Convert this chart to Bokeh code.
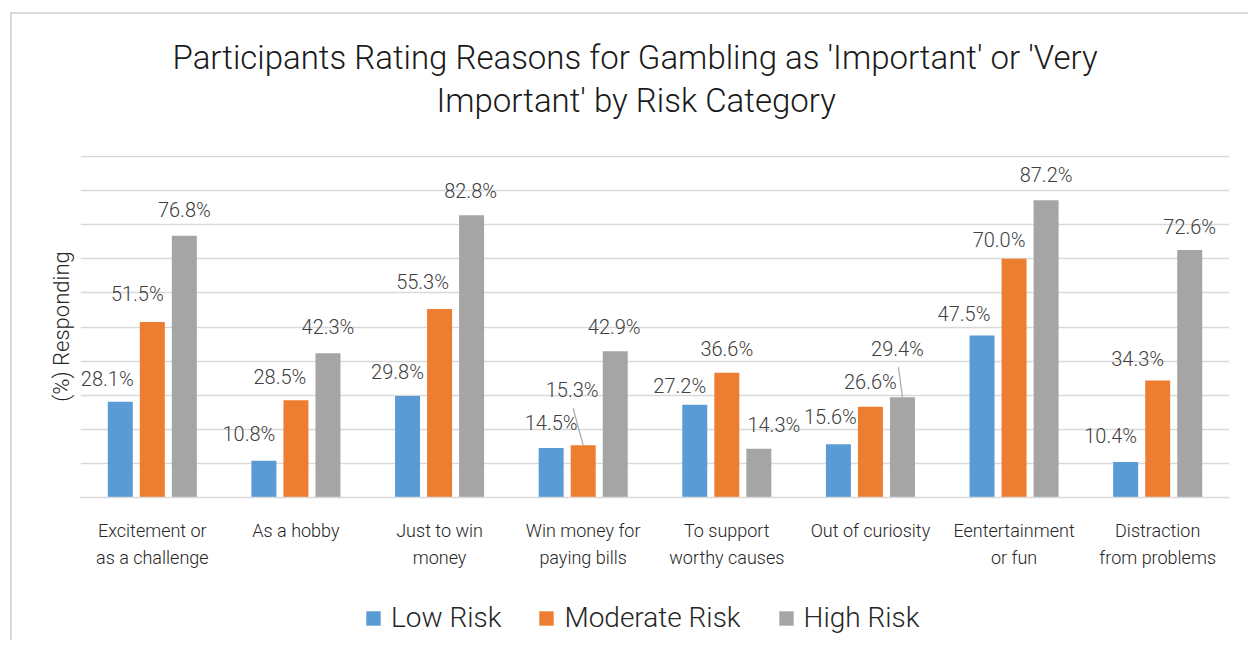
from bokeh.plotting import figure
from bokeh.models import (ColumnDataSource, FactorRange, Range1d, FixedTicker, Legend,
                          LegendItem, Title, InlineStyleSheet)
from bokeh.layouts import column
from bokeh.transform import dodge
from bokeh.core.properties import value
from bokeh.embed import file_html
from bokeh.resources import INLINE

# ---------------- data ----------------
categories = [
    "Excitement or\nas a challenge",
    "As a hobby",
    "Just to win\nmoney",
    "Win money for\npaying bills",
    "To support\nworthy causes",
    "Out of curiosity",
    "Eentertainment\nor fun",
    "Distraction\nfrom problems",
]
series_names = ["Low Risk", "Moderate Risk", "High Risk"]
low_risk = [28.1, 10.8, 29.8, 14.5, 27.2, 15.6, 47.5, 10.4]
moderate_risk = [51.5, 28.5, 55.3, 15.3, 36.6, 26.6, 70.0, 34.3]
high_risk = [76.8, 42.3, 82.8, 42.9, 14.3, 29.4, 87.2, 72.6]
y_ticks = [0, 10, 20, 30, 40, 50, 60, 70, 80, 90, 100]
title_lines = ["Participants Rating Reasons for Gambling as 'Important' or 'Very",
               "Important' by Risk Category"]

# ---------------- styling ----------------
FONT = "Roboto Light"
colors = ["#5b9bd5", "#ed7d31", "#a5a5a5"]
offsets = [-0.223, 0.0, 0.223]
bar_width = 0.174

# data-label placement (pixels: dx right, up above bar top)
label_dx = [
    [-13, -15, -10, 0, -15, -8, -18, -15],
    [-15, -16, -17, -11, 0, 0, -15, -20],
    [0, 0, -1, -1, 15, -5, 0, 0],
]
label_up = [
    [23, 27, 24, 25, 19, 27, 22, 26],
    [28, 23, 27, 55, 24, 25, 19, 22],
    [26, 26, 24, 24, 24, 48, 25, 23],
]
leader = [
    [False] * 8,
    [False, False, False, True, False, False, False, False],
    [False, False, False, False, False, True, False, False],
]

Y_MAX = 100.3
FRAME_W, FRAME_H = 1149, 342
ML, MR, MT, MB = 80, 19, 155, 83
px_x = 1.0 / (FRAME_W / len(categories))   # category units per px
px_y = Y_MAX / FRAME_H                      # percent per px

p = figure(
    x_range=FactorRange(*categories, range_padding=0, factor_padding=0),
    y_range=Range1d(0, Y_MAX),
    width=ML + FRAME_W + MR, height=MT + FRAME_H + MB,
    frame_width=FRAME_W, frame_height=FRAME_H,
    min_border_left=ML, min_border_right=MR, min_border_top=MT, min_border_bottom=MB,
    toolbar_location=None, output_backend="svg",
    background_fill_color="white", border_fill_color="white",
)
p.outline_line_color = None
p.stylesheets = [InlineStyleSheet(css="""
:host::after {
  content: ""; position: absolute; left: 10px; top: 12px; right: 0; bottom: 0;
  border-left: 2px solid #d9d9d9; border-top: 2px solid #d9d9d9;
  pointer-events: none; z-index: 50;
}
""")]

all_series = [low_risk, moderate_risk, high_risk]
sources = []
for s, vals in enumerate(all_series):
    src = ColumnDataSource(dict(
        cat=categories,
        idx=list(range(len(categories))),
        val=vals,
        txt=["%.1f%%" % v for v in vals],
        dx=label_dx[s],
        dy=[-u for u in label_up[s]],
    ))
    sources.append(src)
    p.vbar(x=dodge("cat", offsets[s], range=p.x_range), top="val", width=bar_width,
           source=src, fill_color=colors[s], line_color=None)
    p.text(x=dodge("cat", offsets[s], range=p.x_range), y="val", text="txt",
           x_offset="dx", y_offset="dy", source=src,
           text_font=value(FONT), text_font_size="20px", text_color="#404040",
           text_align="center", text_baseline="middle")
    x0, y0, x1, y1 = [], [], [], []
    for i, v in enumerate(vals):
        if leader[s][i]:
            xc = i + 0.5 + offsets[s]
            x0.append(xc + (label_dx[s][i] + 1) * px_x)
            y0.append(v + (label_up[s][i] - 18) * px_y)
            x1.append(xc)
            y1.append(v)
    if x0:
        p.segment(x0=x0, y0=y0, x1=x1, y1=y1, line_color="#a6a6a6", line_width=1.2)

# axes & grid
p.yaxis.ticker = FixedTicker(ticks=y_ticks)
p.yaxis.major_label_text_font_size = "1px"
p.yaxis.major_label_text_color = None
p.yaxis.major_label_standoff = 0
p.yaxis.major_tick_line_color = None
p.yaxis.minor_tick_line_color = None
p.yaxis.axis_line_color = None
p.yaxis.axis_label = "(%) Responding"
p.yaxis.axis_label_text_font = FONT
p.yaxis.axis_label_text_font_style = "normal"
p.yaxis.axis_label_text_font_size = "22px"
p.yaxis.axis_label_text_color = "#262626"
p.yaxis.axis_label_standoff = 1

p.ygrid.grid_line_color = "#d9d9d9"
p.ygrid.grid_line_width = 1.3
p.xgrid.grid_line_color = None

p.xaxis.axis_line_color = "#d9d9d9"
p.xaxis.axis_line_width = 1.3
p.xaxis.major_tick_line_color = None
p.xaxis.minor_tick_line_color = None
p.xaxis.major_label_text_font = FONT
p.xaxis.major_label_text_font_size = "18px"
p.xaxis.major_label_text_color = "#262626"
p.xaxis.major_label_text_line_height = 1.3
p.xaxis.major_label_standoff = 16

# title: spacer nearest the frame, then line 2, then line 1
p.add_layout(Title(text=" ", text_font_size="1px", standoff=31), "above")
p.add_layout(Title(text=title_lines[1], align="left", offset=356, standoff=3,
                   text_font=FONT, text_font_style="normal", text_font_size="33px",
                   text_color="#1a1a1a"), "above")
p.add_layout(Title(text=title_lines[0], align="left", offset=92, standoff=2,
                   text_font=FONT, text_font_style="normal", text_font_size="33px",
                   text_color="#1a1a1a"), "above")

# legend strip below the chart (hidden proxy renderers give the swatches)
LEG_H = 60
pl = figure(width=ML + FRAME_W + MR, height=LEG_H, x_range=Range1d(0, 1), y_range=Range1d(0, 1),
            min_border=0, toolbar_location=None, output_backend="svg",
            background_fill_color="white", border_fill_color="white")
pl.outline_line_color = None
pl.axis.visible = False
pl.grid.visible = False
pl.stylesheets = [InlineStyleSheet(css="""
:host::after {
  content: ""; position: absolute; left: 10px; top: 0; bottom: 0; width: 0;
  border-left: 2px solid #d9d9d9; pointer-events: none; z-index: 50;
}
""")]
legend_items = []
for s, name in enumerate(series_names):
    r = pl.vbar(x="idx", top="val", width=0.1, source=sources[s],
                fill_color=colors[s], line_color=None, visible=False)
    legend_items.append(LegendItem(label=name, renderers=[r]))
legend = Legend(items=legend_items, orientation="horizontal", location=(284, 6),
                glyph_width=18, glyph_height=18, label_standoff=9, spacing=36,
                padding=0, margin=0, border_line_color=None, background_fill_alpha=0,
                inactive_fill_alpha=0,
                label_text_font=FONT, label_text_font_size="28px",
                label_text_color="#262626")
pl.add_layout(legend, "center")

layout = column(p, pl, spacing=0)
open("out.html", "w").write(file_html(layout, INLINE))
